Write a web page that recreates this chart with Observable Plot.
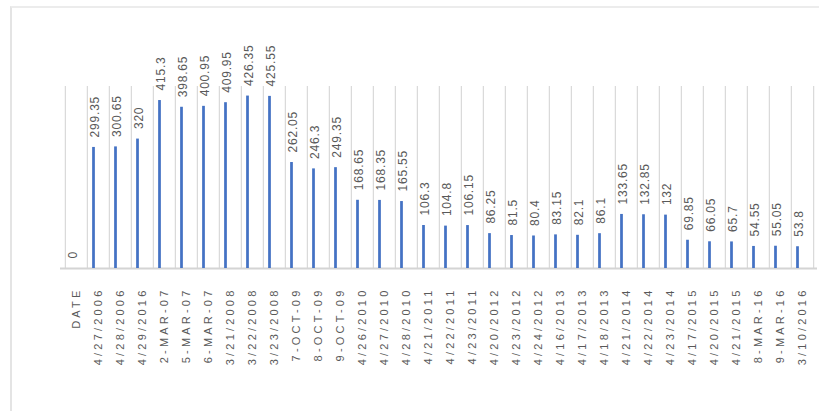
<!DOCTYPE html>
<html>
<head>
<meta charset="utf-8">
<script src="https://cdn.jsdelivr.net/npm/d3@7"></script>
<script src="https://cdn.jsdelivr.net/npm/@observablehq/plot@0.6"></script>
<style>
  html, body { margin: 0; padding: 0; background: #fff; }
  #wrap { position: relative; width: 819px; height: 411px; overflow: hidden; }
  #frame { position: absolute; left: 10px; top: 6px; width: 820px; height: 420px;
           border-top: 2px solid #ececec; border-left: 2px solid #e4e4e4; pointer-events: none; }
  #chart { position: absolute; left: 0; top: 0; }
  g[aria-label="x-axis tick label"] text { letter-spacing: 3.2px; }
  g[aria-label="text"] text { letter-spacing: 0.8px; }
</style>
</head>
<body>
<div id="wrap"><div id="chart"></div><div id="frame"></div></div>
<script>
const categories = ["DATE","4/27/2006","4/28/2006","4/29/2016","2-MAR-07","5-MAR-07","6-MAR-07",
  "3/21/2008","3/22/2008","3/23/2008","7-OCT-09","8-OCT-09","9-OCT-09","4/26/2010","4/27/2010",
  "4/28/2010","4/21/2011","4/22/2011","4/23/2011","4/20/2012","4/23/2012","4/24/2012","4/16/2013",
  "4/17/2013","4/18/2013","4/21/2014","4/22/2014","4/23/2014","4/17/2015","4/20/2015","4/21/2015",
  "8-MAR-16","9-MAR-16","3/10/2016"];
const values = [0,299.35,300.65,320,415.3,398.65,400.95,409.95,426.35,425.55,262.05,246.3,249.35,
  168.65,168.35,165.55,106.3,104.8,106.15,86.25,81.5,80.4,83.15,82.1,86.1,133.65,132.85,132,
  69.85,66.05,65.7,54.55,55.05,53.8];
const yMax = 450;

const data = categories.map((c, i) => ({cat: c, value: values[i]}));

const W = 819, H = 411, mL = 60, mR = 2, mT = 86, mB = 143;
const step = (W - mL - mR) / categories.length;
const barW = 3, barOff = -4.5;
const last = categories[categories.length - 1];

const chart = Plot.plot({
  width: W, height: H,
  marginLeft: mL, marginRight: mR, marginTop: mT, marginBottom: mB,
  style: {fontFamily: "'Liberation Sans', Arial, sans-serif", background: "transparent"},
  x: {type: "band", domain: categories, padding: 0, label: null},
  y: {domain: [0, yMax], axis: null},
  marks: [
    Plot.ruleX(categories, {x: d => d, y1: 0, y2: yMax, dx: -step / 2, stroke: "#d9d9d9", strokeWidth: 1.2}),
    Plot.ruleX([last], {x: d => d, y1: 0, y2: yMax, dx: step / 2, stroke: "#d9d9d9", strokeWidth: 1.2}),
    Plot.ruleY([0], {stroke: "#d4d4d4", strokeWidth: 2}),
    Plot.barY(data, {x: "cat", y: "value", fill: "#4472c4",
      insetLeft: step / 2 + barOff - barW / 2, insetRight: step / 2 - barOff - barW / 2}),
    Plot.text(data, {x: "cat", y: "value", text: d => String(d.value), rotate: -90,
      textAnchor: "start", dx: barOff + 1.5, dy: -10, fill: "#595959", fontSize: 12}),
    Plot.axisX({tickSize: 0, tickPadding: 19, tickRotate: -90, fontSize: 11, fill: "#595959", label: null})
  ]
});
document.getElementById("chart").appendChild(chart);
</script>
</body>
</html>
